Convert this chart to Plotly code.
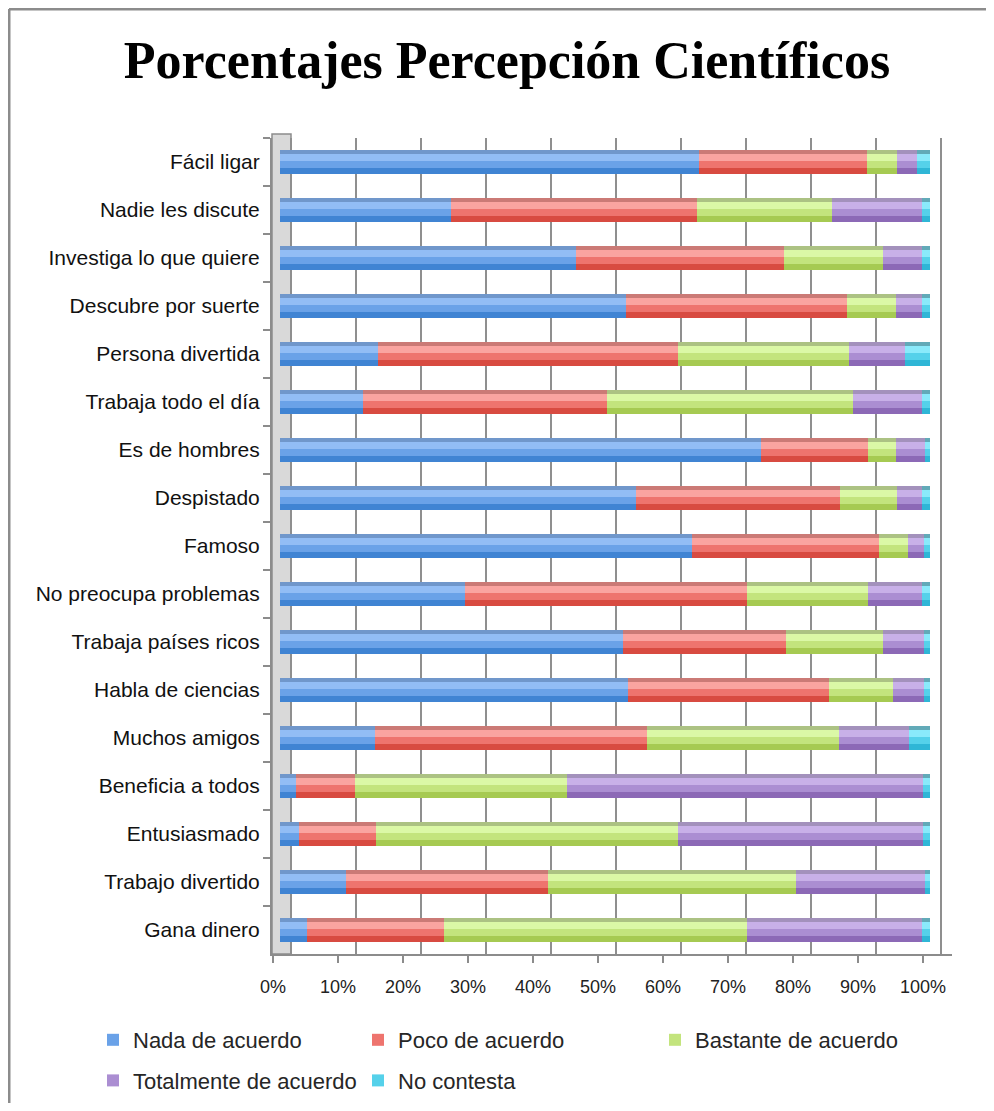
import plotly.graph_objects as go

# ---------------- data (top-to-bottom order as in the chart) ----------------
categories = ["Fácil ligar", "Nadie les discute", "Investiga lo que quiere",
              "Descubre por suerte", "Persona divertida", "Trabaja todo el día",
              "Es de hombres", "Despistado", "Famoso", "No preocupa problemas",
              "Trabaja países ricos", "Habla de ciencias", "Muchos amigos",
              "Beneficia a todos", "Entusiasmado", "Trabajo divertido", "Gana dinero"]

nada = [64.5, 26.3, 45.5, 53.3, 15.1, 12.8, 74.0, 54.8, 63.4, 28.5, 52.7, 53.6, 14.6, 2.5, 2.9, 10.2, 4.2]
poco = [25.8, 37.9, 32.0, 34.0, 46.2, 37.5, 16.5, 31.4, 28.8, 43.4, 25.1, 30.8, 41.8, 9.1, 11.9, 31.1, 21.0]
bastante = [4.6, 20.7, 15.2, 7.4, 26.2, 37.8, 4.2, 8.7, 4.4, 18.6, 14.9, 9.9, 29.6, 32.6, 46.5, 38.1, 46.6]
totalmente = [3.1, 13.8, 6.1, 4.1, 8.7, 10.7, 4.5, 3.8, 2.5, 8.3, 6.4, 4.7, 10.7, 54.7, 37.6, 19.8, 27.0]
no_contesta = [2.0, 1.3, 1.2, 1.2, 3.8, 1.2, 0.8, 1.3, 0.9, 1.2, 0.9, 1.0, 3.3, 1.1, 1.1, 0.8, 1.2]

series_names = ["Nada de acuerdo", "Poco de acuerdo", "Bastante de acuerdo",
                "Totalmente de acuerdo", "No contesta"]
series_values = [nada, poco, bastante, totalmente, no_contesta]

tick_values = [0, 10, 20, 30, 40, 50, 60, 70, 80, 90, 100]
tick_labels = ["0%", "10%", "20%", "30%", "40%", "50%", "60%", "70%", "80%", "90%", "100%"]

# ---------------- styles ----------------
# (top face, light, mid, dark)
palettes = [
    ("#7097CB", "#92BDF5", "#6AA2E8", "#4084D3"),
    ("#CB7A76", "#FAA4A0", "#EE746E", "#D84B41"),
    ("#ACC283", "#DBF8A6", "#C3E47D", "#A6CA52"),
    ("#A391BC", "#C8B0E8", "#AB8ED2", "#8C69B6"),
    ("#62AAB8", "#8AEAFB", "#55D1EA", "#2FB6D6"),
]
legend_of = ["legend", "legend2", "legend3", "legend", "legend2"]

# page has an 8px body margin: work in reference-screen pixels and shift
OFF = 8
W, H = 994 - 2 * OFF, 1111 - 2 * OFF
L_REF, R_REF = 272, 952
T_REF, B_REF = 138, 954
PX_PER_UNIT = 6.5
plot_w = R_REF - L_REF
plot_h = B_REF - T_REF


def xrange_for(zero_px):
    a = (L_REF - zero_px) / PX_PER_UNIT
    return [a, a + plot_w / PX_PER_UNIT]


def px_x(px):
    return (px - L_REF) / plot_w


def px_y(py):
    return (B_REF - py) / plot_h


def cont_x(px):
    return (px - OFF) / W


def cont_y(py):
    return 1 - (py - OFF) / H


# bar layers: (offset, width) in category units, top -> bottom on screen
layers = [(-0.26, 0.10), (-0.16, 0.14), (-0.02, 0.14), (0.12, 0.14)]

fig = go.Figure()
base = [0.0] * len(categories)
for i, (name, vals) in enumerate(zip(series_names, series_values)):
    for li, (off, wd) in enumerate(layers):
        fig.add_trace(go.Bar(
            y=categories, x=vals, base=list(base), orientation="h",
            offset=off, width=wd,
            marker=dict(color=palettes[i][li], line=dict(width=0)),
            name=name, legend=legend_of[i], legendgroup=f"g{i}",
            showlegend=(li == 2), hoverinfo="skip" if li != 2 else "x+y+name",
            xaxis="x", yaxis="y",
        ))
    base = [b + v for b, v in zip(base, vals)]

# invisible anchor traces so the helper axes (back-wall grid, front tick labels) exist
for ax in ("x2", "x3"):
    fig.add_trace(go.Scatter(x=[tick_values[0], tick_values[-1]], y=[categories[0], categories[-1]],
                             mode="markers", marker=dict(opacity=0), showlegend=False,
                             hoverinfo="skip", xaxis=ax, yaxis="y"))

n = len(categories)
font_main = "Liberation Sans, Arial, sans-serif"
leg_common = dict(xref="container", y=cont_y(1019), yref="container",
                  yanchor="top", xanchor="left", orientation="v",
                  tracegroupgap=9, font=dict(family=font_main, size=22, color="#262626"),
                  bgcolor="rgba(0,0,0,0)")

fig.update_layout(
    template="none",
    width=W, height=H,
    paper_bgcolor="white", plot_bgcolor="rgba(0,0,0,0)",
    barmode="overlay", bargap=0,
    margin=dict(l=L_REF - OFF, r=W - (R_REF - OFF), t=T_REF - OFF, b=H - (B_REF - OFF),
                pad=0, autoexpand=False),
    title=dict(text="<b>Porcentajes Percepción Científicos</b>",
               font=dict(family="Liberation Serif, DejaVu Serif, serif", size=52, color="#000"),
               x=cont_x(507), xref="container", xanchor="center",
               y=cont_y(60), yref="container", yanchor="middle"),
    xaxis=dict(range=xrange_for(280), showgrid=False, zeroline=False, showline=False,
               showticklabels=False, ticks="", automargin=False),
    xaxis2=dict(range=xrange_for(291), overlaying="x", anchor="y", side="bottom",
                showgrid=True, gridcolor="#8f8f8f", gridwidth=2,
                tickvals=tick_values, showticklabels=False, ticks="",
                zeroline=False, showline=False, automargin=False),
    xaxis3=dict(range=xrange_for(273), overlaying="x", anchor="y", side="bottom",
                showgrid=False, zeroline=False,
                tickvals=tick_values, ticktext=tick_labels,
                ticks="outside", ticklen=7, tickcolor="#8c8c8c", tickwidth=2,
                showline=True, linecolor="#8c8c8c", linewidth=2,
                ticklabelstandoff=8, automargin=False,
                tickfont=dict(family=font_main, size=18, color="#222")),
    yaxis=dict(type="category", categoryorder="array", categoryarray=categories,
               range=[n - 0.5, -0.5], showgrid=False, zeroline=False,
               ticks="outside", tickson="boundaries", ticklen=7,
               tickcolor="#8c8c8c", tickwidth=2,
               showline=True, linecolor="#8c8c8c", linewidth=2,
               ticklabelstandoff=6, automargin=False,
               tickfont=dict(family=font_main, size=21, color="#111")),
    legend=dict(x=cont_x(93), **leg_common),
    legend2=dict(x=cont_x(358), **leg_common),
    legend3=dict(x=cont_x(655), **leg_common),
    shapes=[
        # left 3D wall
        dict(type="rect", xref="paper", yref="paper",
             x0=px_x(272), x1=px_x(291), y0=px_y(954), y1=px_y(134),
             fillcolor="#d9d9d9", line=dict(color="#8c8c8c", width=1.5), layer="between"),
        # outer chart border (top and left visible)
        dict(type="line", xref="paper", yref="paper",
             x0=px_x(9), x1=px_x(1010), y0=px_y(9), y1=px_y(9),
             line=dict(color="#8c8c8c", width=3)),
        dict(type="line", xref="paper", yref="paper",
             x0=px_x(9), x1=px_x(9), y0=px_y(9), y1=px_y(1130),
             line=dict(color="#8c8c8c", width=3)),
    ],
    showlegend=True,
)

fig.write_html("out.html")
